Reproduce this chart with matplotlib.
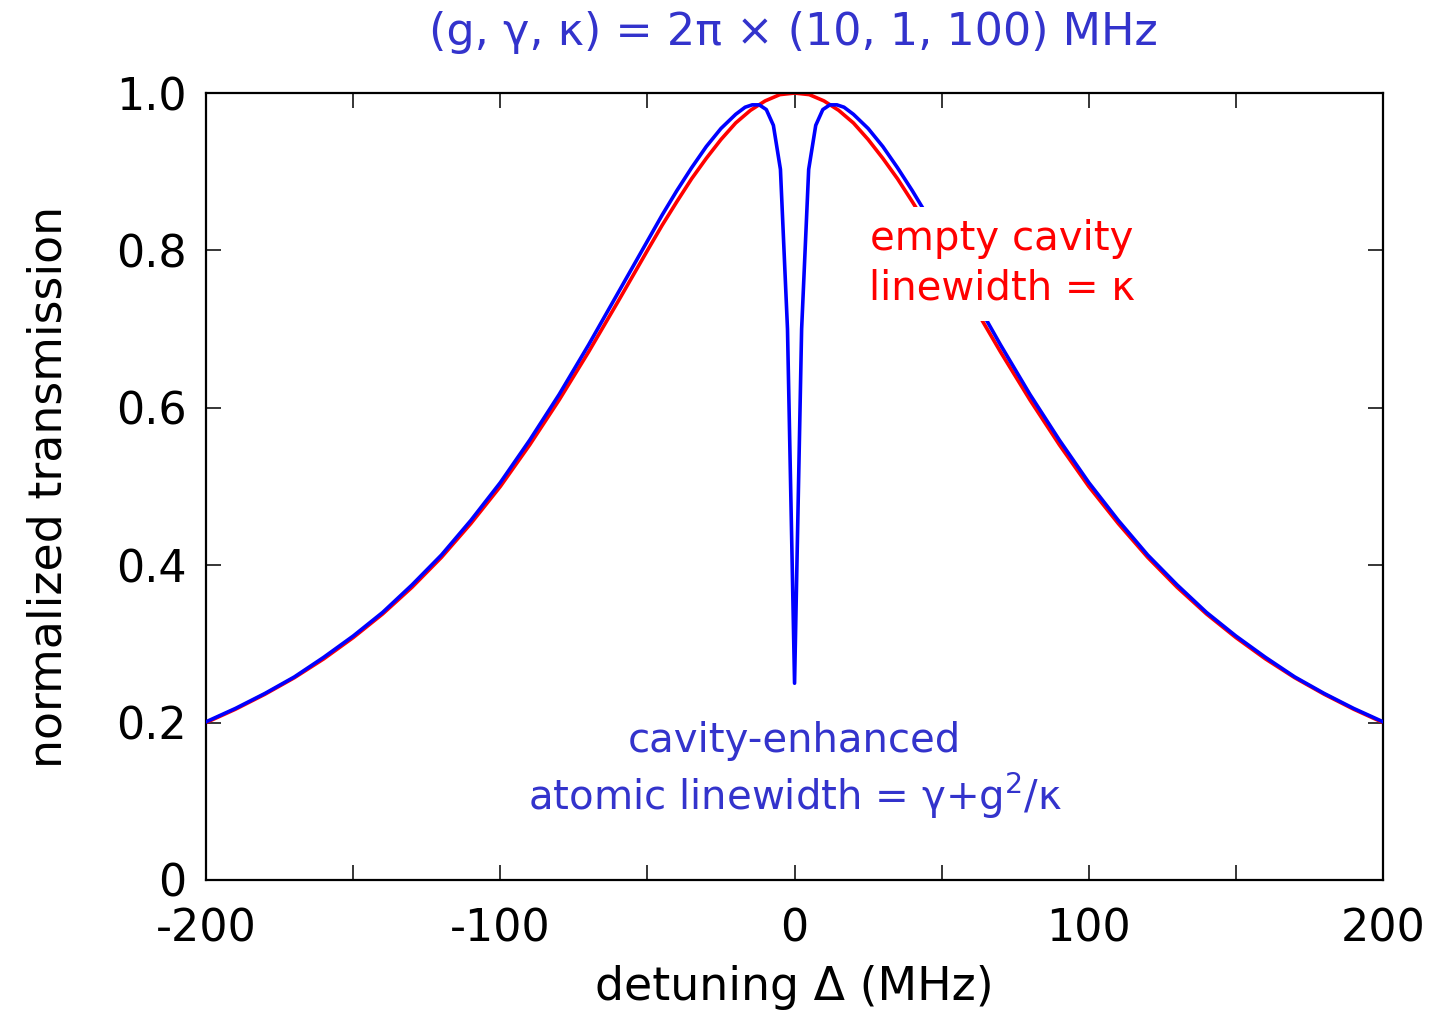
import matplotlib
matplotlib.use("Agg")
import matplotlib.pyplot as plt
from matplotlib.ticker import FixedLocator, FixedFormatter

plt.rcParams['font.family'] = ['DejaVu Sans']

# Empty cavity transmission vs detuning (MHz)
delta_empty = [-200, -190, -180, -170, -160, -150, -140, -130, -120, -110,
               -100, -90, -80, -70, -60, -50, -45, -40, -35, -30, -25, -20,
               -15, -10, -5, 0, 5, 10, 15, 20, 25, 30, 35, 40, 45, 50, 60,
               70, 80, 90, 100, 110, 120, 130, 140, 150, 160, 170, 180, 190, 200]
T_empty = [0.200, 0.217, 0.236, 0.257, 0.281, 0.308, 0.338, 0.372, 0.410, 0.453,
           0.500, 0.553, 0.610, 0.671, 0.735, 0.800, 0.832, 0.862, 0.891, 0.917,
           0.941, 0.962, 0.978, 0.990, 0.998, 1.000, 0.998, 0.990, 0.978, 0.962,
           0.941, 0.917, 0.891, 0.862, 0.832, 0.800, 0.735, 0.671, 0.610, 0.553,
           0.500, 0.453, 0.410, 0.372, 0.338, 0.308, 0.281, 0.257, 0.236, 0.217,
           0.200]

# Cavity with one atom: narrow transmission dip at resonance
delta_atom = [-200, -190, -180, -170, -160, -150, -140, -130, -120, -110,
              -100, -90, -80, -70, -60, -50, -45, -40, -35, -30, -25, -20,
              -16.8, -14.4, -12, -9.6, -7.2, -4.8, -2.4, 0, 2.4, 4.8, 7.2,
              9.6, 12, 14.4, 16.8, 20, 25, 30, 35, 40, 45, 50, 60, 70, 80,
              90, 100, 110, 120, 130, 140, 150, 160, 170, 180, 190, 200]
T_atom = [0.201, 0.218, 0.237, 0.258, 0.283, 0.310, 0.340, 0.375, 0.413, 0.457,
          0.505, 0.559, 0.617, 0.680, 0.746, 0.812, 0.845, 0.876, 0.905, 0.932,
          0.955, 0.973, 0.982, 0.985, 0.985, 0.979, 0.959, 0.903, 0.700, 0.250,
          0.700, 0.903, 0.959, 0.979, 0.985, 0.985, 0.982, 0.973, 0.955, 0.932,
          0.905, 0.876, 0.845, 0.812, 0.746, 0.680, 0.617, 0.559, 0.505, 0.457,
          0.413, 0.375, 0.340, 0.310, 0.283, 0.258, 0.237, 0.218, 0.201]

x_major = [-200, -100, 0, 100, 200]
x_minor = [-150, -50, 50, 150]
y_ticks = [0, 0.2, 0.4, 0.6, 0.8, 1.0]
y_labels = ['0', '0.2', '0.4', '0.6', '0.8', '1.0']

text_blue = '#3333cc'

fig = plt.figure(figsize=(14.35, 10.18), dpi=100)
ax = fig.add_axes([0.1436, 0.1356, 0.8202, 0.7730])

ax.plot(delta_empty, T_empty, color='#ff0000', lw=2.6, zorder=2)
ax.plot(delta_atom, T_atom, color='#0000ff', lw=2.6, zorder=3)

ax.set_xlim(-200, 200)
ax.set_ylim(0, 1)
ax.xaxis.set_major_locator(FixedLocator(x_major))
ax.xaxis.set_minor_locator(FixedLocator(x_minor))
ax.yaxis.set_major_locator(FixedLocator(y_ticks))
ax.yaxis.set_major_formatter(FixedFormatter(y_labels))
ax.set_xticklabels([str(v) for v in x_major])

ax.tick_params(which='both', direction='in', top=True, right=True,
               length=11, width=1.1, labelsize=32)
ax.tick_params(axis='x', pad=20)
ax.tick_params(axis='y', pad=14)
for s in ax.spines.values():
    s.set_linewidth(1.6)

ax.set_xlabel('detuning Δ (MHz)', fontsize=33, labelpad=10)
ax.set_ylabel('normalized transmission', fontsize=33, labelpad=32)

fig.text(0.553, 0.968, '(g, γ, κ) = 2π × (10, 1, 100) MHz', color=text_blue,
         fontsize=32, ha='center', va='center')

ax.text(70.5, 0.783, 'empty cavity\nlinewidth = κ', color='#ff0000',
        fontsize=29, ha='center', va='center', linespacing=1.3, zorder=5,
        bbox=dict(facecolor='white', edgecolor='none', pad=9))

ax.text(0, 0.138, 'cavity-enhanced\natomic linewidth = γ+g$^2$/κ', color=text_blue,
        fontsize=29, ha='center', va='center', linespacing=1.25, zorder=5)

fig.savefig('out.png', dpi=100)
